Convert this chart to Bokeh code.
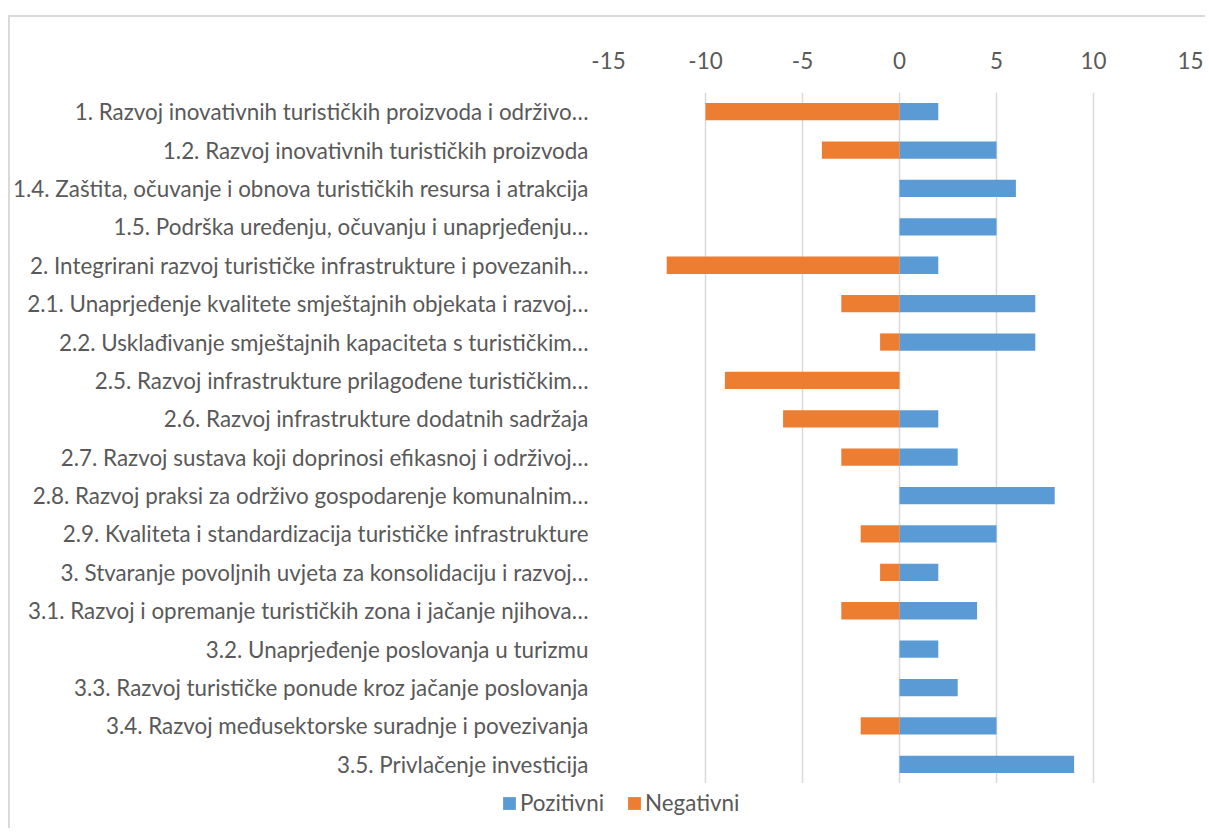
from bokeh.plotting import figure
from bokeh.layouts import column
from bokeh.models import Range1d, FactorRange, Legend, LegendItem, FixedTicker, ColumnDataSource
from bokeh.embed import file_html
from bokeh.resources import INLINE

categories = [
    "1. Razvoj inovativnih turističkih proizvoda i održivo…",
    "1.2. Razvoj inovativnih turističkih proizvoda",
    "1.4. Zaštita, očuvanje i obnova turističkih resursa i atrakcija",
    "1.5. Podrška uređenju, očuvanju i unaprjeđenju…",
    "2. Integrirani razvoj turističke infrastrukture i povezanih…",
    "2.1. Unaprjeđenje kvalitete smještajnih objekata i razvoj…",
    "2.2. Usklađivanje smještajnih kapaciteta s turističkim…",
    "2.5. Razvoj infrastrukture prilagođene turističkim…",
    "2.6. Razvoj infrastrukture dodatnih sadržaja",
    "2.7. Razvoj sustava koji doprinosi efikasnoj i održivoj…",
    "2.8. Razvoj praksi za održivo gospodarenje komunalnim…",
    "2.9. Kvaliteta i standardizacija turističke infrastrukture",
    "3. Stvaranje povoljnih uvjeta za konsolidaciju i razvoj…",
    "3.1. Razvoj i opremanje turističkih zona i jačanje njihova…",
    "3.2. Unaprjeđenje poslovanja u turizmu",
    "3.3. Razvoj turističke ponude kroz jačanje poslovanja",
    "3.4. Razvoj međusektorske suradnje i povezivanja",
    "3.5. Privlačenje investicija",
]
pozitivni = [2, 5, 6, 5, 2, 7, 7, 0, 2, 3, 8, 5, 2, 4, 2, 3, 5, 9]
negativni = [-10, -4, 0, 0, -12, -3, -1, -9, -6, -3, 0, -2, -1, -3, 0, 0, -2, 0]
x_ticks = [-15, -10, -5, 0, 5, 10, 15]
x_tick_labels = ["-15", "-10", "-5", "0", "5", "10", "15"]
series_names = ["Pozitivni", "Negativni"]
series_colors = ["#5b9bd5", "#ed7d31"]

FONT = "Lato"
FS = "22.4px"
TXT = "#595959"
GRID = "#d9d9d9"

src = ColumnDataSource(dict(cat=categories, pos=pozitivni, neg=negativni))

p = figure(
    width=1195, height=766,
    x_range=Range1d(-15, 15),
    y_range=FactorRange(factors=list(reversed(categories))),
    x_axis_location="above",
    output_backend="svg", toolbar_location=None,
    min_border_left=596, min_border_right=15,
    min_border_top=75, min_border_bottom=0,
)
p.outline_line_color = None
p.background_fill_color = "white"
p.border_fill_color = "white"

p.hbar(y="cat", left=0, right="pos", height=0.45, source=src,
       fill_color=series_colors[0], line_color=None)
p.hbar(y="cat", left="neg", right=0, height=0.45, source=src,
       fill_color=series_colors[1], line_color=None)

xa = p.xaxis[0]
xa.ticker = FixedTicker(ticks=x_ticks)
xa.major_label_overrides = {t: s for t, s in zip(x_ticks, x_tick_labels)}
xa.axis_line_color = None
xa.major_tick_line_color = None
xa.minor_tick_line_color = None
xa.major_label_text_font = FONT
xa.major_label_text_font_size = FS
xa.major_label_text_color = TXT
xa.major_label_standoff = 18

ya = p.yaxis[0]
ya.axis_line_color = None
ya.major_tick_line_color = None
ya.minor_tick_line_color = None
ya.major_label_text_font = FONT
ya.major_label_text_font_size = FS
ya.major_label_text_color = TXT
ya.major_label_standoff = 14

p.xgrid.grid_line_color = GRID
p.xgrid.grid_line_width = 1.5
p.xgrid.ticker = FixedTicker(ticks=x_ticks)
p.ygrid.grid_line_color = None

# legend strip below the chart (placeholder renderers lie outside its visible range)
pl = figure(
    width=1195, height=45,
    x_range=Range1d(0, 1), y_range=Range1d(0, 1),
    output_backend="svg", toolbar_location=None,
    min_border_left=0, min_border_right=0, min_border_top=0, min_border_bottom=0,
)
pl.axis.visible = False
pl.grid.visible = False
pl.outline_line_color = None
pl.border_fill_color = "white"
pl.background_fill_color = "white"
placeholder = ColumnDataSource(dict(y=[-5], l=[-5], r=[-4]))
leg_r = [pl.hbar(y="y", left="l", right="r", height=0.5, source=placeholder,
                 fill_color=c, line_color=None) for c in series_colors]

for fig in (p, pl):
    try:
        fig.frame_align = False
    except Exception:
        pass

legend = Legend(
    items=[LegendItem(label=n, renderers=[r]) for n, r in zip(series_names, leg_r)],
    orientation="horizontal",
    location=(491, 12),
    padding=0, margin=0, spacing=22,
    glyph_width=16, glyph_height=16, label_height=22, label_standoff=3,
    label_text_font=FONT, label_text_font_size=FS, label_text_color=TXT,
    border_line_color=None, background_fill_alpha=0,
)
pl.add_layout(legend, "center")

layout = column(p, pl, spacing=0)
layout.margin = (15, 0, 0, 8)
layout.styles = {"border-left": "2px solid #d9d9d9", "border-top": "2px solid #d9d9d9"}

open("out.html", "w").write(file_html(layout, INLINE))
